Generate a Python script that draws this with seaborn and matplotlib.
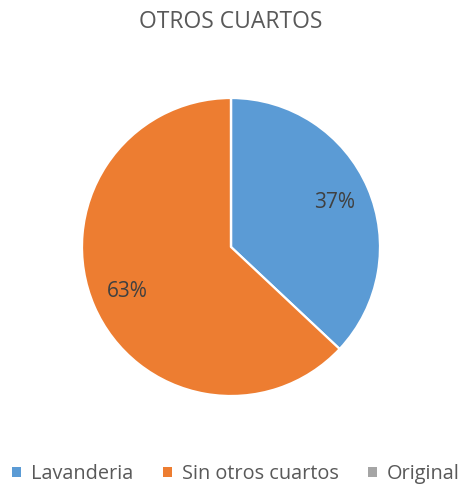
import matplotlib
matplotlib.use("Agg")
import matplotlib.pyplot as plt
import seaborn as sns
from matplotlib.patches import Patch

categories = ["Lavanderia", "Sin otros cuartos", "Original"]
values = [37, 63, 0]
title = "OTROS CUARTOS"

sns.set_theme(style="white")
plt.rcParams["font.family"] = ["Open Sans", "DejaVu Sans"]
colors = ["#5B9BD5", "#ED7D31", "#A5A5A5"]

fig = plt.figure(figsize=(4.63, 4.91), dpi=100)
ax = fig.add_axes([82 / 463, 95 / 491, 298 / 463, 298 / 491])

def fmt(p):
    return f"{p:.0f}%" if p > 0.5 else ""

wedges, texts, autotexts = ax.pie(
    values, colors=colors, startangle=90, counterclock=False,
    autopct=fmt, pctdistance=0.76, radius=1.0,
    wedgeprops=dict(edgecolor="white", linewidth=1.6),
    textprops=dict(color="#404040", fontsize=15),
)
ax.set_xlim(-1.0, 1.0)
ax.set_ylim(-1.0, 1.0)
ax.set_aspect("equal")
ax.axis("off")

fig.text(231 / 463, 1 - 22 / 491, title, ha="center", va="center",
         fontsize=16.5, color="#595959")

handles = [Patch(facecolor=c, edgecolor="none") for c in colors]
fig.legend(handles, categories, loc="center", bbox_to_anchor=(236 / 463, 1 - 474 / 491),
           ncol=3, frameon=False, fontsize=14.3, handlelength=0.45, handleheight=0.45,
           handletextpad=0.5, columnspacing=1.5, labelcolor="#595959")

fig.savefig("out.png", dpi=100, facecolor="white")
